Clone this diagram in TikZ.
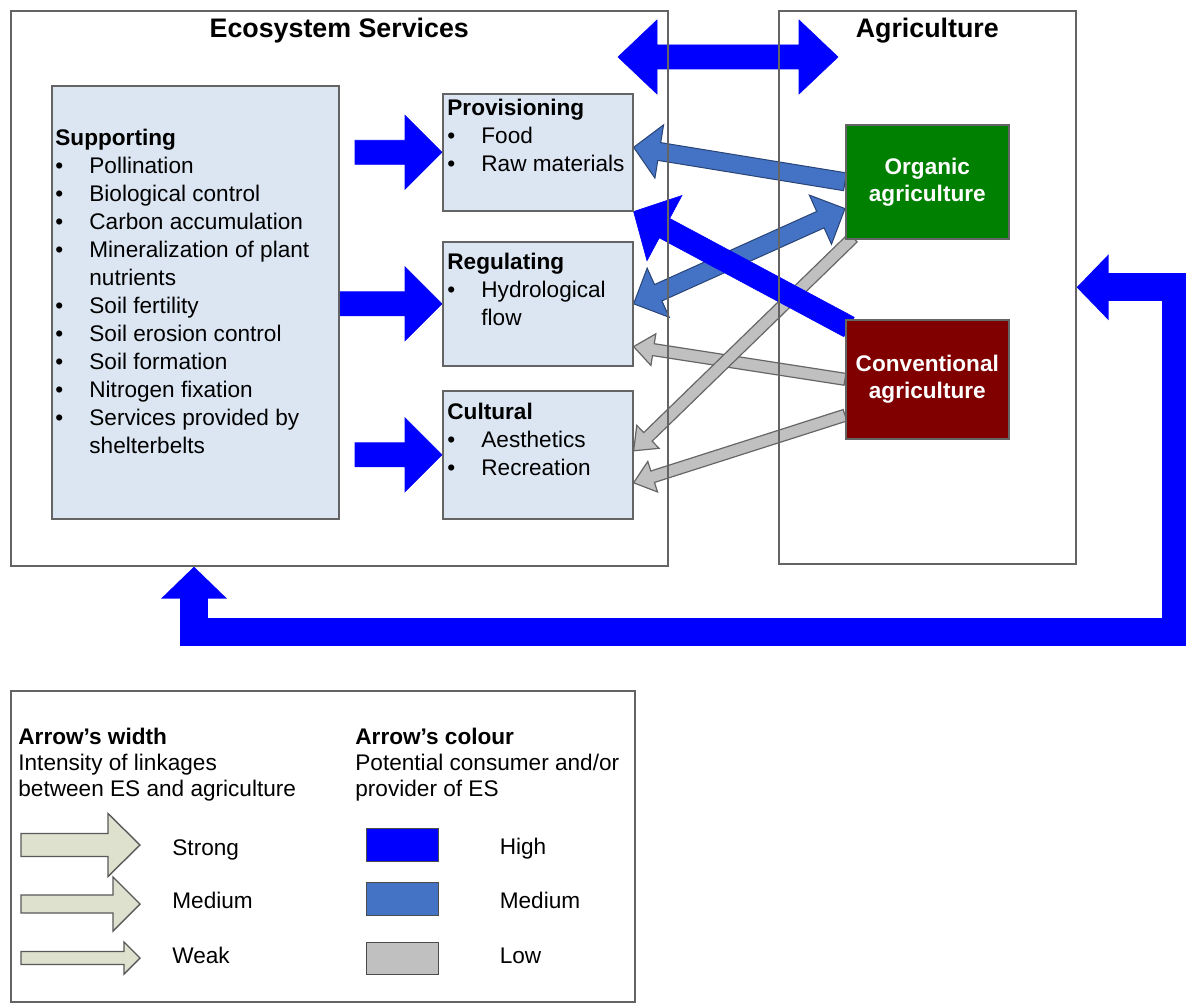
\documentclass[tikz,border=0pt]{standalone}
\usepackage{fontspec}
\setmainfont{Liberation Sans}
\usetikzlibrary{positioning,calc,backgrounds,arrows.meta}

\definecolor{esblue}{RGB}{0,0,255}
\definecolor{midblue}{RGB}{68,114,196}
\definecolor{lowgrey}{RGB}{192,192,192}
\definecolor{boxfill}{RGB}{220,230,242}
\definecolor{legfill}{RGB}{221,225,206}
\definecolor{orggreen}{RGB}{0,128,0}
\definecolor{convred}{RGB}{128,0,0}
\definecolor{frame}{RGB}{100,100,100}

\newcommand{\bul}[1]{\makebox[17pt][l]{\textbullet}#1}
\newcommand{\cont}[1]{\hspace*{17pt}#1}

\newcommand{\fatarrow}[6]{%
    \coordinate (fa-s) at (#2);
    \coordinate (fa-e) at (#3);
    \coordinate (fa-b) at ($(fa-e)!#6!(fa-s)$);
    \draw[#1] ($(fa-s)!#4!90:(fa-e)$) -- ($(fa-b)!#4!-90:(fa-s)$)
        -- ($(fa-b)!#5!-90:(fa-s)$) -- (fa-e) -- ($(fa-b)!#5!90:(fa-s)$)
        -- ($(fa-b)!#4!90:(fa-s)$) -- ($(fa-s)!#4!-90:(fa-e)$) -- cycle;
}
\newcommand{\fatdouble}[6]{%
    \coordinate (fa-s) at (#2);
    \coordinate (fa-e) at (#3);
    \coordinate (fa-a) at ($(fa-s)!#6!(fa-e)$);
    \coordinate (fa-b) at ($(fa-e)!#6!(fa-s)$);
    \draw[#1] (fa-s) -- ($(fa-a)!#5!90:(fa-e)$) -- ($(fa-a)!#4!90:(fa-e)$)
        -- ($(fa-b)!#4!-90:(fa-s)$) -- ($(fa-b)!#5!-90:(fa-s)$) -- (fa-e)
        -- ($(fa-b)!#5!90:(fa-s)$) -- ($(fa-b)!#4!90:(fa-s)$)
        -- ($(fa-a)!#4!-90:(fa-e)$) -- ($(fa-a)!#5!-90:(fa-e)$) -- cycle;
}

\begin{document}
\begin{tikzpicture}
    [x=0.5pt, y=-0.5pt
    ,every node/.style={font=\fontsize{11.3}{14}\selectfont, inner sep=0pt}
    ,area/.style={draw=frame, line width=0.8pt, anchor=north west}
    ,service/.style={draw=frame, fill=boxfill, line width=0.8pt, anchor=north west}
    ,farm/.style={draw=frame, line width=0.8pt, anchor=north west, text=white, align=center, font=\bfseries\fontsize{11.3}{13.5}\selectfont}
    ,heading/.style={font=\bfseries\fontsize{13.4}{16}\selectfont}
    ,list/.style={anchor=north west, align=left}
    ,legtext/.style={anchor=north west, align=left, font=\fontsize{11.3}{13}\selectfont}
    ,label/.style={anchor=base west}
    ,hiarrow/.style={fill=esblue, draw=esblue, line width=0.3pt}
    ,midarrow/.style={fill=midblue, draw=midblue!60!black, line width=0.5pt}
    ,loarrow/.style={fill=lowgrey, draw=black!60, line width=0.6pt}
    ,legarrow/.style={fill=legfill, draw=black!65, line width=0.7pt}
    ,swatch/.style={draw=black!70, line width=0.7pt, anchor=north west, minimum width=36pt}
    ,feedback/.style={draw=esblue, line width=14pt, {Triangle[length=16pt,width=32pt]}-{Triangle[length=16pt,width=32pt]}}
    ]

    \useasboundingbox (0,0) rectangle (1186,1004);

    \node[area, minimum width=328.5pt, minimum height=277.5pt] (es) at (10,10) {};
    \node[area, minimum width=148.5pt, minimum height=276.5pt] (agri) at (778,10) {};
    \node[heading, below=4pt of es.north] (es-title) {Ecosystem Services};
    \node[heading, below=4pt of agri.north] (agri-title) {Agriculture};

    \node[service, minimum width=143.5pt, minimum height=216.5pt] (supp) at (51,85) {};
    \node[service, minimum width=95pt, minimum height=58.5pt] (prov) at (442,93) {};
    \node[service, minimum width=95pt, minimum height=62pt] (reg) at (442,241) {};
    \node[service, minimum width=95pt, minimum height=64pt] (cult) at (442,390) {};

    \node[list] (supp-text) at ($(supp.north west)+(4,44)$)
        {\textbf{Supporting}\\
         \bul{Pollination}\\
         \bul{Biological control}\\
         \bul{Carbon accumulation}\\
         \bul{Mineralization of plant}\\
         \cont{nutrients}\\
         \bul{Soil fertility}\\
         \bul{Soil erosion control}\\
         \bul{Soil formation}\\
         \bul{Nitrogen fixation}\\
         \bul{Services provided by}\\
         \cont{shelterbelts}};
    \node[list] (prov-text) at ($(prov.north west)+(5,6)$)
        {\textbf{Provisioning}\\ \bul{Food}\\ \bul{Raw materials}};
    \node[list] (reg-text) at ($(reg.north west)+(5,12)$)
        {\textbf{Regulating}\\ \bul{Hydrological}\\ \cont{flow}};
    \node[list] (cult-text) at ($(cult.north west)+(5,13)$)
        {\textbf{Cultural}\\ \bul{Aesthetics}\\ \bul{Recreation}};

    \node[farm, fill=orggreen, minimum width=81.5pt, minimum height=57pt] (org) at (845,124) {Organic\\agriculture};
    \node[farm, fill=convred, minimum width=81.5pt, minimum height=59.5pt] (conv) at (845,319) {Conventional\\agriculture};

    \coordinate (link-l) at (618,57);
    \coordinate (link-r) at (838,57);
    \coordinate (fb-r) at (1176,632);
    \coordinate (fb-l) at (194,632);

    \begin{scope}[on background layer]
    \fatarrow{hiarrow}{$(prov.west)+(-87,0)$}{prov.west}{6pt}{18.5pt}{18.5pt}
    \fatarrow{hiarrow}{supp.east |- reg.west}{reg.west}{6pt}{18.5pt}{18.5pt}
    \fatarrow{hiarrow}{$(cult.west)+(-87,0)$}{cult.west}{6pt}{18.5pt}{18.5pt}
    \fatdouble{hiarrow}{link-l}{link-r}{6pt}{18.5pt}{19.5pt}
    \fatarrow{loarrow}{conv.west}{$(reg.south east)+(0,-20)$}{3pt}{8pt}{10pt}
    \fatarrow{loarrow}{$(conv.west)+(0,36)$}{$(cult.east)+(0,28)$}{3pt}{8pt}{10pt}
    \fatarrow{loarrow}{$(org.south west)+(8,-2)$}{$(cult.east)+(0,-4)$}{3pt}{8pt}{10pt}
    \fatarrow{midarrow}{org.west}{$(prov.east)+(0,-5)$}{4.5pt}{13.5pt}{13pt}
    \fatdouble{midarrow}{reg.east}{$(org.south west)+(0,-31)$}{4.5pt}{13.5pt}{13.5pt}
    \fatarrow{hiarrow}{$(conv.north west)+(4,8)$}{prov.south east}{5.5pt}{18.5pt}{17.5pt}
    \draw[feedback] (agri.east) -| (fb-r) -- (fb-l) -- (fb-l |- es.south);
    \end{scope}

    \node[area, minimum width=312pt, minimum height=155.5pt] (legend) at (10,690) {};
    \node[legtext] (width-text) at ($(legend.north west)+(8,38)$)
        {\textbf{Arrow's width}\\Intensity of linkages\\between ES and agriculture};
    \node[legtext] (colour-text) at ($(legend.north west)+(345,38)$)
        {\textbf{Arrow's colour}\\Potential consumer and/or\\provider of ES};

    \coordinate (strong-s) at (21,845);
    \coordinate (strong-e) at (140,845);
    \coordinate (medium-s) at (21,904);
    \coordinate (medium-e) at (140,904);
    \coordinate (weak-s) at (21,958);
    \coordinate (weak-e) at (140,958);
    \fatarrow{legarrow}{strong-s}{strong-e}{5.75pt}{15.75pt}{16pt}
    \fatarrow{legarrow}{medium-s}{medium-e}{4.5pt}{13.5pt}{13.5pt}
    \fatarrow{legarrow}{weak-s}{weak-e}{3.25pt}{8pt}{8pt}
    \node[label] (strong-lbl) at ($(strong-e)+(32,10)$) {Strong};
    \node[label] (medium-lbl) at ($(medium-e)+(32,4)$) {Medium};
    \node[label] (weak-lbl) at ($(weak-e)+(32,5)$) {Weak};

    \node[swatch, fill=esblue, minimum height=16.5pt] (sw-high) at (366,828) {};
    \node[swatch, fill=midblue, minimum height=16.5pt] (sw-mid) at (366,882) {};
    \node[swatch, fill=lowgrey, minimum height=16pt] (sw-low) at (366,942) {};
    \node[label] (high-lbl) at ($(sw-high.east)+(60,9.5)$) {High};
    \node[label] (mid-lbl) at ($(sw-mid.east)+(60,9.5)$) {Medium};
    \node[label] (low-lbl) at ($(sw-low.east)+(60,5)$) {Low};

\end{tikzpicture}
\end{document}
